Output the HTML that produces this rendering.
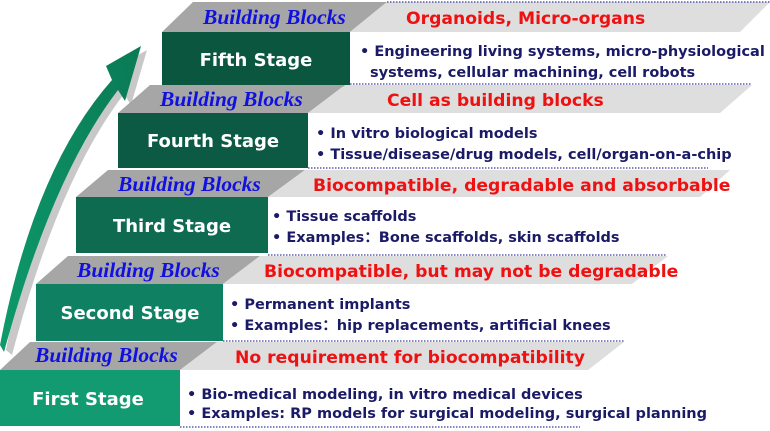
<!DOCTYPE html>
<html><head><meta charset="utf-8"><style>
body{margin:0;background:#fff;}
svg{display:block}
.bb{font-family:"Liberation Serif",serif;font-style:italic;font-weight:bold;font-size:21.5px;fill:#1010e0}
.rd{font-family:"DejaVu Sans",sans-serif;font-weight:bold;font-size:17.2px;fill:#ee1111}
.st{font-family:"DejaVu Sans",sans-serif;font-weight:bold;font-size:18px;fill:#fff}
.bd{font-family:"DejaVu Sans",sans-serif;font-weight:bold;font-size:14.5px;fill:#1a1a66}
.dot{stroke:#3a3aa0;stroke-width:1.3;stroke-dasharray:1.5 1.5}
</style></head><body>
<svg width="770" height="431" viewBox="0 0 770 431">
<defs><linearGradient id="ag" x1="0" y1="1" x2="1" y2="0"><stop offset="0" stop-color="#0e9a6c"/><stop offset="1" stop-color="#0a7a55"/></linearGradient></defs>
<path d="M6,350 Q40,170 118,84 L112,70 L147,50 L131,105 L124,94 Q58,180 12,355 Z" fill="#c8c8c8"/>
<path d="M0,345 Q34,168 112,80 L106,66 L141,46 L125,101 L118,90 Q52,176 4,352 Z" fill="url(#ag)"/>

<polygon points="193,2 387,2 350,32 162,32" fill="#a6a6a6"/>
<polygon points="387,2 770,2 740,32 350,32" fill="#dedede"/>
<line x1="387" y1="2" x2="770" y2="2" class="dot"/>
<rect x="162" y="32" width="188" height="55" fill="#0b563e"/>
<line x1="350" y1="84" x2="752" y2="84" class="dot"/>
<polygon points="150,85 345,85 308,113 118,113" fill="#a6a6a6"/>
<polygon points="345,85 752,85 720,113 308,113" fill="#dedede"/>
<rect x="118" y="113" width="190" height="55" fill="#0c5a43"/>
<line x1="308" y1="168" x2="708" y2="168" class="dot"/>
<polygon points="108,170 305,170 268,197 76,197" fill="#a6a6a6"/>
<polygon points="305,170 730,170 700,197 268,197" fill="#dedede"/>
<rect x="76" y="197" width="192" height="56" fill="#0e6b50"/>
<line x1="268" y1="255" x2="666" y2="255" class="dot"/>
<polygon points="68,256 260,256 223,284 36,284" fill="#a6a6a6"/>
<polygon points="260,256 668,256 632,284 223,284" fill="#dedede"/>
<rect x="36" y="284" width="187" height="57" fill="#0f8062"/>
<line x1="223" y1="341" x2="625" y2="341" class="dot"/>
<polygon points="30,342 217,342 180,370 0,370" fill="#a6a6a6"/>
<polygon points="217,342 624,342 588,370 180,370" fill="#dedede"/>
<rect x="0" y="370" width="180" height="56" fill="#129a70"/>
<line x1="180" y1="427" x2="580" y2="427" class="dot"/>

<text x="203" y="24" class="bb">Building Blocks</text>
<text x="406" y="24" class="rd">Organoids, Micro-organs</text>
<text x="256" y="66" class="st" text-anchor="middle">Fifth Stage</text>
<text x="360" y="56" class="bd">• Engineering living systems, micro-physiological</text>
<text x="370" y="77" class="bd">systems, cellular machining, cell robots</text>

<text x="160" y="106" class="bb">Building Blocks</text>
<text x="387" y="106" class="rd">Cell as building blocks</text>
<text x="213" y="147" class="st" text-anchor="middle">Fourth Stage</text>
<text x="316" y="138" class="bd">• In vitro biological models</text>
<text x="316" y="159" class="bd">• Tissue/disease/drug models, cell/organ-on-a-chip</text>

<text x="118" y="191" class="bb">Building Blocks</text>
<text x="313" y="191" class="rd">Biocompatible, degradable and absorbable</text>
<text x="172" y="232" class="st" text-anchor="middle">Third Stage</text>
<text x="272" y="221" class="bd">• Tissue scaffolds</text>
<text x="272" y="242" class="bd">• Examples：Bone scaffolds, skin scaffolds</text>

<text x="77" y="277" class="bb">Building Blocks</text>
<text x="264" y="277" class="rd">Biocompatible, but may not be degradable</text>
<text x="130" y="319" class="st" text-anchor="middle">Second Stage</text>
<text x="230" y="309" class="bd">• Permanent implants</text>
<text x="230" y="330" class="bd">• Examples：hip replacements, artificial knees</text>

<text x="35" y="362" class="bb">Building Blocks</text>
<text x="235" y="363" class="rd">No requirement for biocompatibility</text>
<text x="88" y="405" class="st" text-anchor="middle">First Stage</text>
<text x="187" y="399" class="bd">• Bio-medical modeling, in vitro medical devices</text>
<text x="187" y="418" class="bd">• Examples: RP models for surgical modeling, surgical planning</text>
</svg>
</body></html>
